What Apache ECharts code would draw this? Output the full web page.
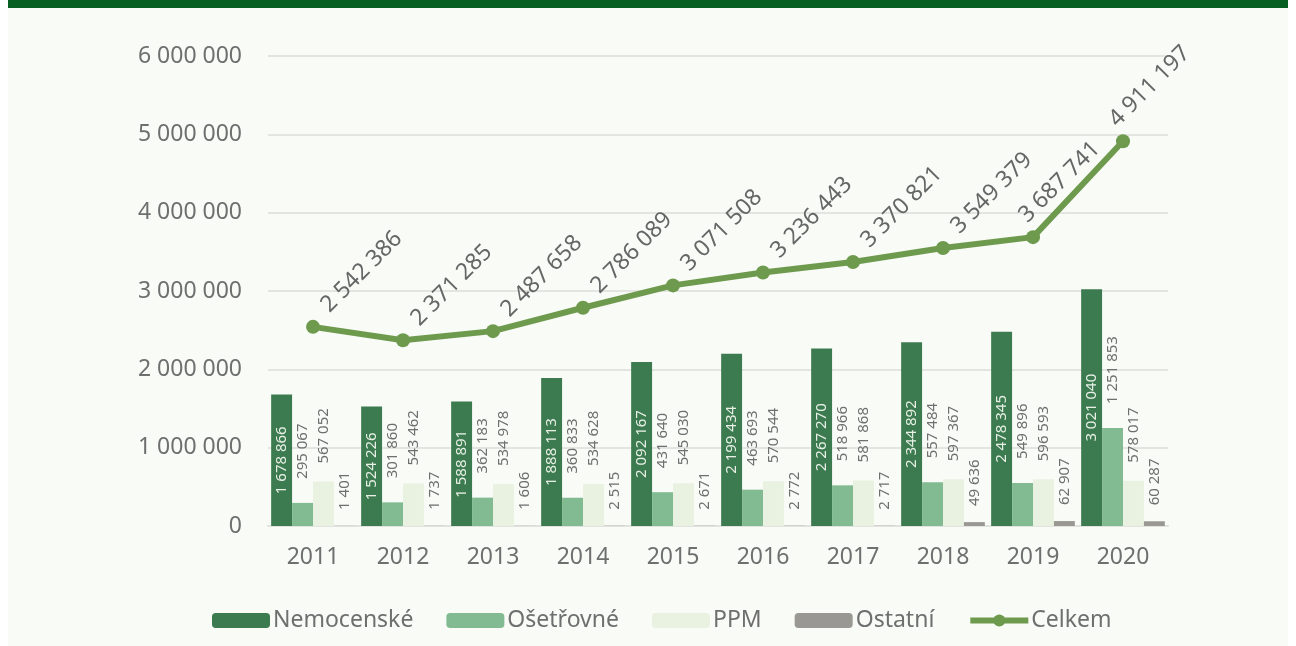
<!DOCTYPE html>
<html lang="cs">
<head>
  <meta charset="utf-8">
  <title>Dávky</title>
  <script src="https://cdn.jsdelivr.net/npm/echarts@6/dist/echarts.min.js"></script>
</head>
<body style="margin: 0; background: #ffffff;">
  <div style="position: absolute; left: 8px; top: 0; width: 1280px; height: 8px; background: #075f22;"></div>
  <div style="position: absolute; left: 8px; top: 8px; width: 1280px; height: 638px; background: #f9fbf7;"></div>
  <div id="chart_div" style="position: absolute; left: 0; top: 0; width: 1296px; height: 646px;"></div>
  <script type="text/javascript">
    var years = ['2011', '2012', '2013', '2014', '2015', '2016', '2017', '2018', '2019', '2020'];
    var nemocenske = [1678866, 1524226, 1588891, 1888113, 2092167, 2199434, 2267270, 2344892, 2478345, 3021040];
    var osetrovne = [295067, 301860, 362183, 360833, 431640, 463693, 518966, 557484, 549896, 1251853];
    var ppm = [567052, 543462, 534978, 534628, 545030, 570544, 581868, 597367, 596593, 578017];
    var ostatni = [1401, 1737, 1606, 2515, 2671, 2772, 2717, 49636, 62907, 60287];
    var celkem = [2542386, 2371285, 2487658, 2786089, 3071508, 3236443, 3370821, 3549379, 3687741, 4911197];

    var font = 'Noto Sans';
    var gray = '#6f6f6f';

    function fmt(v) {
      return String(v).replace(/\B(?=(\d{3})+(?!\d))/g, ' ');
    }

    // label offset is in the rotated (45deg) frame, so turn a screen shift into it
    function diagOffset(dx, dy) {
      return [(dx - dy) / Math.SQRT2, (dx + dy) / Math.SQRT2];
    }

    // labels standing on top of the small bars
    function topLabel(dist) {
      return {
        show: true,
        position: 'top',
        rotate: 90,
        align: 'left',
        verticalAlign: 'middle',
        distance: dist,
        color: gray,
        fontFamily: font,
        fontSize: 15,
        formatter: function (p) { return fmt(p.value); }
      };
    }

    // the last two totals sit a bit further left, clear of the steep line
    var celkemData = celkem.map(function (v, i) {
      var dx = i >= 8 ? -2 : 20;
      return { value: v, label: { offset: diagOffset(dx, 5) } };
    });

    var myChart = echarts.init(document.getElementById('chart_div'), null, { renderer: 'canvas' });

    var option = {
      backgroundColor: 'transparent',
      textStyle: { fontFamily: font },
      grid: { left: 268, right: 128, top: 56, bottom: 120 },
      legend: {
        left: 207,
        top: 604,
        itemWidth: 58,
        itemHeight: 15,
        itemGap: 33,
        textStyle: { color: gray, fontSize: 23, fontFamily: font, padding: [0, 0, 0, -2] },
        data: [
          'Nemocenské', 'Ošetřovné', 'PPM', 'Ostatní',
          { name: 'Celkem', lineStyle: { width: 6 }, itemStyle: { borderWidth: 0 } }
        ]
      },
      xAxis: {
        type: 'category',
        data: years,
        axisTick: { show: false },
        axisLine: { lineStyle: { color: '#e2e2de', width: 2 } },
        axisLabel: { color: gray, fontSize: 23, margin: 20, fontFamily: font }
      },
      yAxis: {
        type: 'value',
        min: 0,
        max: 6000000,
        interval: 1000000,
        axisLine: { show: false },
        axisTick: { show: false },
        splitLine: { lineStyle: { color: '#e4e4e0', width: 2 } },
        axisLabel: {
          color: gray,
          fontSize: 23,
          margin: 26,
          fontFamily: font,
          formatter: function (v) { return fmt(v); }
        }
      },
      series: [
        {
          name: 'Nemocenské',
          type: 'bar',
          data: nemocenske,
          barGap: '0%',
          barCategoryGap: '7%',
          itemStyle: { color: '#3c7a4f' },
          label: {
            show: true,
            position: 'inside',
            rotate: 90,
            color: '#e8f0e6',
            fontFamily: font,
            fontSize: 15,
            formatter: function (p) { return fmt(p.value); }
          }
        },
        {
          name: 'Ošetřovné',
          type: 'bar',
          data: osetrovne,
          itemStyle: { color: '#82bb92' },
          label: topLabel(24)
        },
        {
          name: 'PPM',
          type: 'bar',
          data: ppm,
          itemStyle: { color: '#e9f1e0' },
          label: topLabel(18)
        },
        {
          name: 'Ostatní',
          type: 'bar',
          data: ostatni,
          itemStyle: { color: '#9a9892' },
          label: topLabel(16)
        },
        {
          name: 'Celkem',
          type: 'line',
          data: celkemData,
          z: 5,
          symbol: 'circle',
          symbolSize: 14,
          lineStyle: { color: '#6e9a4e', width: 6 },
          itemStyle: { color: '#6e9a4e' },
          label: {
            show: true,
            position: 'top',
            distance: 8,
            rotate: 45,
            align: 'left',
            verticalAlign: 'bottom',
            color: '#666666',
            fontFamily: font,
            fontSize: 23,
            formatter: function (p) { return fmt(p.value); }
          }
        }
      ]
    };

    myChart.setOption(option);
  </script>
</body>
</html>
